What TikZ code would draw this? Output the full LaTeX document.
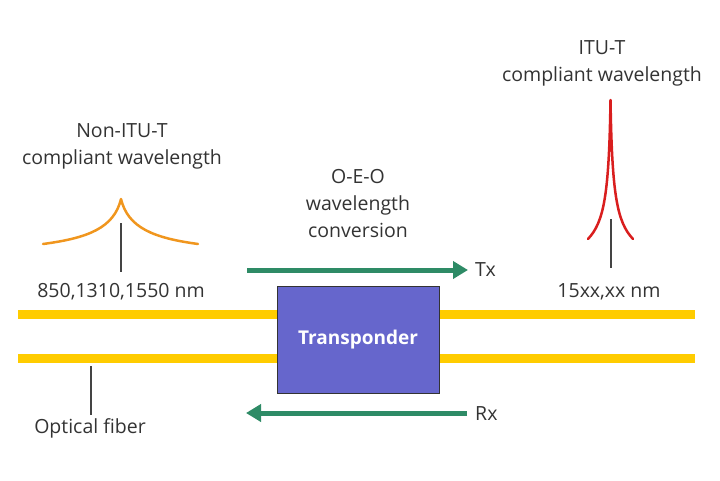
\documentclass[tikz,border=0pt]{standalone}
\usepackage{fontspec}
\setmainfont{Open Sans}
\usetikzlibrary{arrows.meta}
\definecolor{fiber}{HTML}{FFCC00}
\definecolor{oeo}{HTML}{2E8B66}
\definecolor{orng}{HTML}{F0961E}
\definecolor{redc}{HTML}{D91E1E}
\definecolor{tbox}{HTML}{6666CC}
\definecolor{txt}{HTML}{333333}
\definecolor{lead}{HTML}{444444}
\tikzset{
  lbl/.style={font=\fontsize{19.5}{27}\selectfont, text=txt, align=center, inner sep=0pt},
  fiberline/.style={fiber, line width=9pt},
  leader/.style={lead, line width=1.5pt},
  sigarrow/.style={oeo, line width=5pt, -{Triangle[length=15pt,width=17pt]}},
}
\begin{document}
\begin{tikzpicture}[x=1pt,y=-1pt]
\useasboundingbox (0,0) rectangle (720,480);
% fibers
\coordinate (f1l) at (18,314.5);
\coordinate (f1r) at (695,314.5);
\coordinate (f2l) at (18,358.5);
\coordinate (f2r) at (695,358.5);
\draw[fiberline] (f1l) -- (f1r);
\draw[fiberline] (f2l) -- (f2r);
% transponder
\node[draw=black!80, line width=0.8pt, fill=tbox, minimum width=162pt, minimum height=107pt, inner sep=0pt,
  text=white, font=\fontsize{19}{22}\selectfont\bfseries] (tp) at (358,339.5) {Transponder};
% arrows
\coordinate (txs) at (247,270);
\coordinate (txe) at (468,270);
\coordinate (rxs) at (467,413);
\coordinate (rxe) at (246,413);
\draw[sigarrow] (txs) -- (txe);
\draw[sigarrow] (rxs) -- (rxe);
\node[lbl, anchor=west] (tx) at (475,270) {Tx};
\node[lbl, anchor=west] (rx) at (475,414) {Rx};
\node[lbl] (oeo) at (358,204) {O-E-O\\wavelength\\conversion};
% non-ITU
\node[lbl] (non) at (122,146) {Non-ITU-T\\compliant wavelength};
\draw[orng, line width=2.5pt, line cap=round, line join=round]
  (43,244) .. controls (88,238) and (114,228) .. (121,199)
  .. controls (128,228) and (154,238) .. (198,244);
\coordinate (l1a) at (121,223);
\coordinate (l1b) at (121,272);
\draw[leader] (l1a) -- (l1b);
\node[lbl] (nm1) at (121,292) {850,1310,1550 nm};
% ITU
\node[lbl] (itu) at (602,63) {ITU-T\\compliant wavelength};
\draw[redc, line width=2.5pt, line cap=round, line join=round]
  (588,239) .. controls (604,222) and (609,195) .. (610.5,100)
  .. controls (612,195) and (617,222) .. (633,239);
\coordinate (l2a) at (611,219);
\coordinate (l2b) at (611,268);
\draw[leader] (l2a) -- (l2b);
\node[lbl] (nm2) at (609,292) {15xx,xx nm};
% optical fiber
\coordinate (l3a) at (91,366);
\coordinate (l3b) at (91,415);
\draw[leader] (l3a) -- (l3b);
\node[lbl] (of) at (90,428) {Optical fiber};
\end{tikzpicture}
\end{document}
